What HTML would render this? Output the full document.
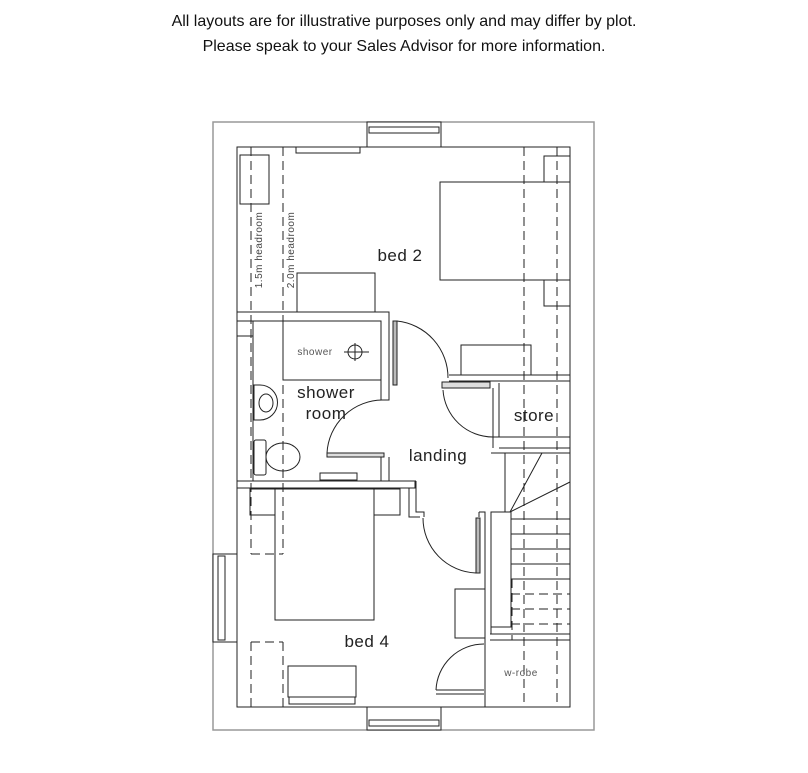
<!DOCTYPE html>
<html><head><style>
body{margin:0;background:#fff;width:808px;height:768px;overflow:hidden}
svg text{font-family:"Liberation Sans",sans-serif}
</style></head><body>
<svg width="808" height="768" viewBox="0 0 808 768" xmlns="http://www.w3.org/2000/svg">
<text x="404" y="26" font-size="16" text-anchor="middle" fill="#111">All layouts are for illustrative purposes only and may differ by plot.</text>
<text x="404" y="51" font-size="16" text-anchor="middle" fill="#111">Please speak to your Sales Advisor for more information.</text>
<g fill="none" stroke="#999" stroke-width="1.5">
<rect x="213" y="122" width="381" height="608"/>
</g>
<g fill="none" stroke="#222" stroke-width="1">
<rect x="237" y="147" width="333" height="560"/>
<rect x="367" y="122" width="74" height="25" fill="#fff"/>
<rect x="369" y="127" width="70" height="6"/>
<rect x="367" y="707" width="74" height="23" fill="#fff"/>
<rect x="369" y="720" width="70" height="6"/>
<rect x="213" y="554" width="24" height="88" fill="#fff"/>
<rect x="218" y="556" width="7" height="84"/>
<rect x="296" y="147" width="64" height="6"/>
<rect x="240" y="155" width="29" height="49"/>
<rect x="440" y="182" width="130" height="98"/>
<rect x="544" y="156" width="26" height="26"/>
<rect x="544" y="280" width="26" height="26"/>
<rect x="297" y="273" width="78" height="39"/>
<rect x="461" y="345" width="70" height="30"/>
<path d="M237 312 H389 V400 H381 V321 H237"/>
<rect x="237" y="321" width="16" height="15"/>
<line x1="253" y1="336" x2="253" y2="481"/>
<rect x="283" y="321" width="98" height="59"/>
<circle cx="355" cy="352" r="7"/>
<line x1="344" y1="352" x2="369" y2="352"/><line x1="355" y1="343" x2="355" y2="361"/>
<rect x="393" y="321" width="4" height="64" fill="#bbb"/>
<path d="M397 321 A57 57 0 0 1 448 378"/>
<path d="M449 375 H570 M449 381 H570"/>
<path d="M442 382 H490 V388 H442 Z" fill="#ddd"/>
<path d="M443 390 A50 50 0 0 0 493 437"/>
<path d="M493 388 V437 M499 383 V437 M493 437 H570 M499 448 H570 M493 448 V437"/>
<path d="M254 385 H260 A17 17 0 0 1 260 420 H254 Z"/>
<ellipse cx="266" cy="403" rx="7" ry="9"/>
<rect x="254" y="440" width="12" height="35" rx="2"/>
<ellipse cx="283" cy="457" rx="17" ry="14"/>
<rect x="320" y="473" width="37" height="7"/>
<path d="M327 453 H384 V457 H327 Z" fill="#ddd"/>
<path d="M327 453 A56 56 0 0 1 383 400"/>
<path d="M237 481 H415 V488 H237"/>
<path d="M389 457 V481 M381 457 V481"/>
<path d="M415 488 V481 M409 488 V517 H420 M415 481 H416"/>
<path d="M416 481 V512 H424 V517"/>
<path d="M423 518 A55 55 0 0 0 476 573"/>
<rect x="476" y="518" width="4" height="55" fill="#bbb"/>
<path d="M479 512 H485 V707 M491 512 V634"/>
<path d="M479 512 V517"/>
<rect x="275" y="489" width="99" height="131"/>
<rect x="250" y="489" width="25" height="26"/>
<rect x="374" y="489" width="26" height="26"/>
<rect x="288" y="666" width="68" height="31"/>
<rect x="289" y="697" width="66" height="7"/>
<rect x="455" y="589" width="30" height="49"/>
<path d="M491 453 H570 M505 453 V512"/>
<rect x="491" y="512" width="20" height="115"/>
<path d="M510 512 L542 453 M510 512 L570 482"/>
<path d="M511 519 H570 M511 534 H570 M511 549 H570 M511 564 H570 M511 579 H570"/>
<path d="M490 634 H570 M490 640 H570"/>
<path d="M436 690 A48 48 0 0 1 484 644"/>
<path d="M436 690 H484 M436 694 H484"/>
</g>
<g fill="none" stroke="#222" stroke-width="1" stroke-dasharray="9,5">
<line x1="251" y1="147" x2="251" y2="554"/>
<line x1="283" y1="147" x2="283" y2="554"/>
<line x1="251" y1="554" x2="283" y2="554"/>
<line x1="251" y1="642" x2="283" y2="642"/>
<line x1="251" y1="642" x2="251" y2="707"/>
<line x1="283" y1="642" x2="283" y2="707"/>
<line x1="524" y1="147" x2="524" y2="707"/>
<line x1="557" y1="147" x2="557" y2="707"/>
<path d="M511 594 H570 M511 609 H570 M511 624 H570 M512 579 V640"/>
</g>
<g fill="#222" letter-spacing="0.5">
<text x="400" y="261" font-size="17" text-anchor="middle">bed 2</text>
<text x="326" y="398" font-size="17" text-anchor="middle">shower</text>
<text x="326" y="419" font-size="17" text-anchor="middle">room</text>
<text x="534" y="421" font-size="17" text-anchor="middle">store</text>
<text x="438" y="461" font-size="17" text-anchor="middle">landing</text>
<text x="367" y="647" font-size="17" text-anchor="middle">bed 4</text>
<text x="521" y="676" font-size="10" text-anchor="middle" fill="#555">w-robe</text>
<text x="315" y="355" font-size="10" text-anchor="middle" fill="#555">shower</text>
<text transform="translate(262,250) rotate(-90)" font-size="10" text-anchor="middle" fill="#444">1.5m headroom</text>
<text transform="translate(294,250) rotate(-90)" font-size="10" text-anchor="middle" fill="#444">2.0m headroom</text>
</g>
</svg>
</body></html>
